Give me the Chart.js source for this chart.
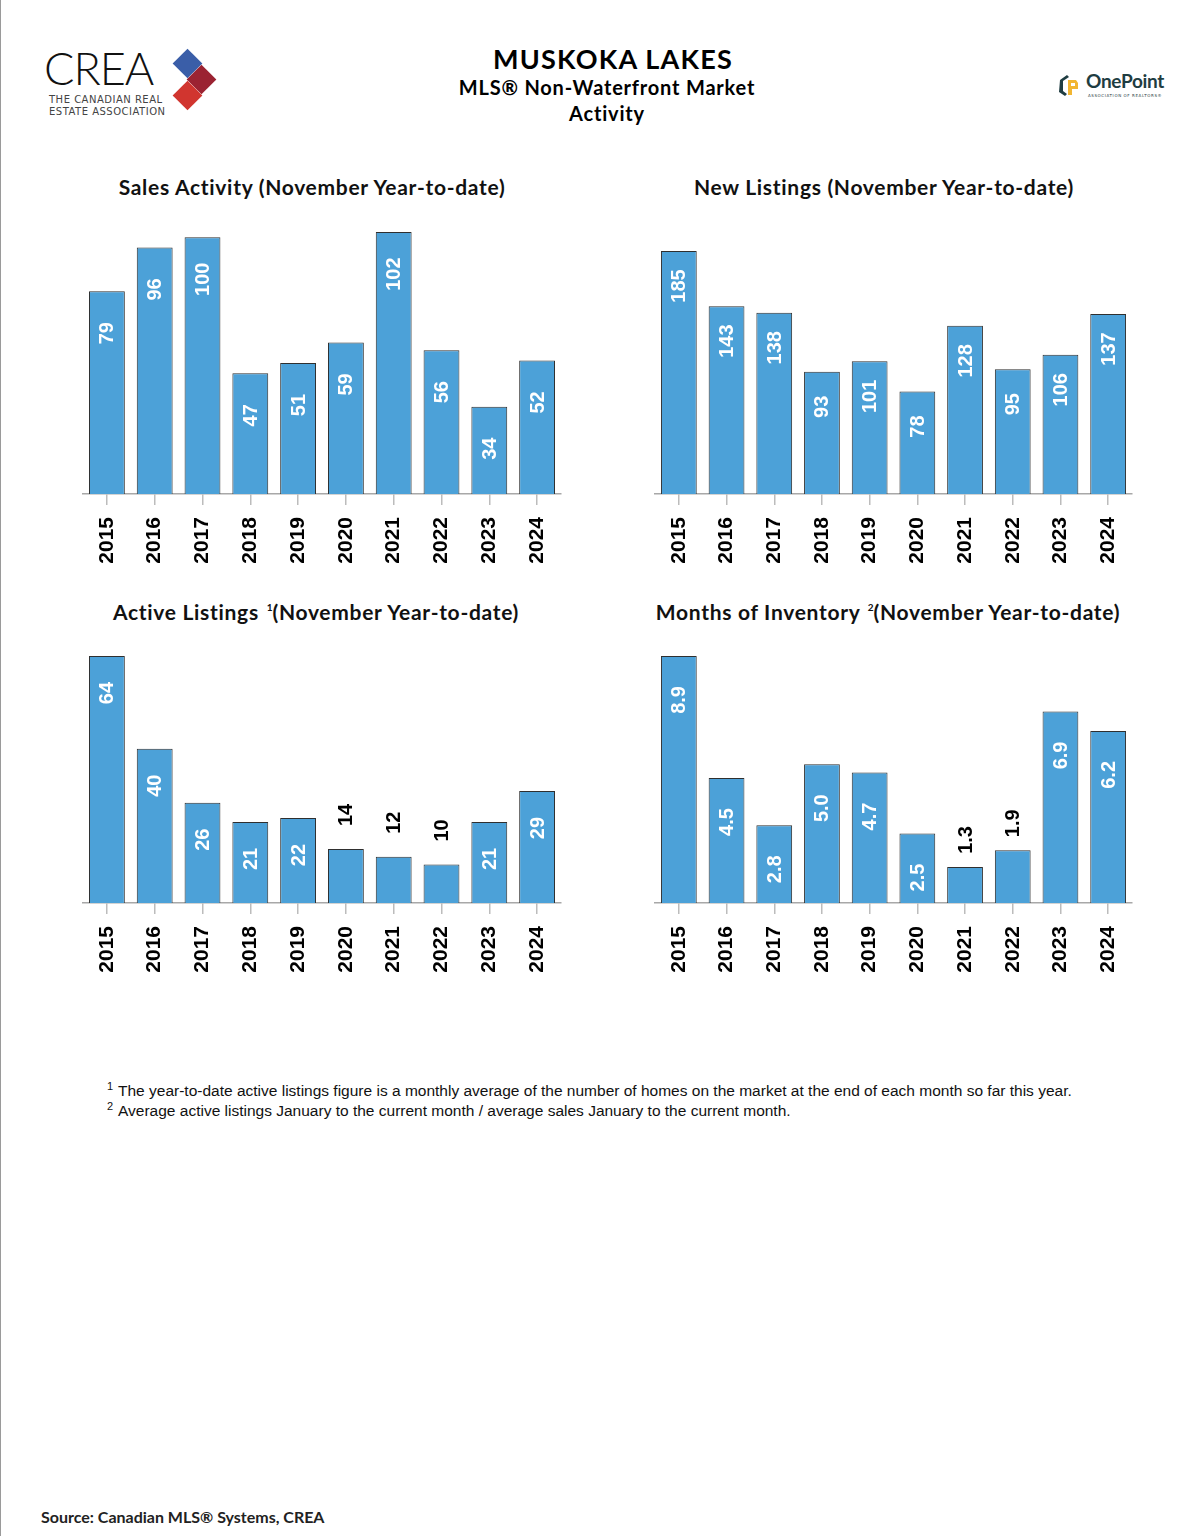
<!DOCTYPE html>
<html>
<head>
<meta charset="utf-8">
<script src="https://cdn.jsdelivr.net/npm/chart.js@4/dist/chart.umd.min.js"></script>
<style>
  html, body { margin: 0; padding: 0; background: #fff; }
  body { width: 1193px; height: 1536px; position: relative; overflow: hidden; }
  .edge { position: absolute; left: 0; top: 0; width: 1px; height: 1536px; background: #9a9a9a; }
  .abs { position: absolute; }
  .head { font-family: Lato, 'Open Sans', sans-serif; font-weight: 700; color: #000; text-align: center; white-space: nowrap; }
  .ctitle { position: absolute; font-family: Lato, 'Open Sans', sans-serif; font-weight: 700; font-size: 21px;
            letter-spacing: 0.7px; color: #111; white-space: nowrap; transform: translate(-50%, -50%); }
  .ctitle sup { font-size: 10px; vertical-align: 9px; margin-left: 2px; letter-spacing: 0; }
  canvas { position: absolute; }
  .notes { position: absolute; left: 107px; top: 1081px; font-family: 'Liberation Sans', Arial, sans-serif;
           font-size: 15.5px; color: #111; line-height: 20px; }
  .notes div { position: relative; padding-left: 11px; height: 20px; white-space: nowrap; }
  .notes sup { position: absolute; left: 0; top: -5px; font-size: 11px; }
  .source { position: absolute; left: 41px; top: 1507px; font-family: Lato, 'Open Sans', sans-serif;
            font-weight: 700; font-size: 16px; color: #222; }
  .dia { position: absolute; width: 21px; height: 21px; transform: rotate(45deg); }
</style>
</head>
<body>
<div class="edge"></div>

<!-- CREA logo -->
<div class="abs" style="left:44px;top:44px;font-family:Lato,'Open Sans',sans-serif;font-weight:300;font-size:45px;letter-spacing:-1px;color:#111;line-height:48px;">CREA</div>
<div class="abs" style="left:49px;top:94px;font-family:'DejaVu Sans',sans-serif;font-size:10px;letter-spacing:0.5px;color:#444;line-height:12px;">THE CANADIAN REAL<br>ESTATE ASSOCIATION</div>
<div class="dia" style="left:177px;top:53px;background:#3a5ea8;"></div>
<div class="dia" style="left:191px;top:69px;background:#9b2332;"></div>
<div class="dia" style="left:177px;top:85px;background:#d1352f;"></div>

<!-- titles -->
<div class="abs head" style="left:413px;width:400px;top:43px;font-size:27px;letter-spacing:1.2px;line-height:32px;">MUSKOKA LAKES</div>
<div class="abs head" style="left:407px;width:400px;top:74px;font-size:20px;letter-spacing:0.8px;line-height:26px;">MLS® Non-Waterfront Market<br>Activity</div>

<!-- OnePoint logo -->
<svg class="abs" style="left:1056px;top:72px;" width="26" height="26" viewBox="0 0 26 26">
  <path d="M4 8 L11 3 L13 5 L7 9 L7 19 L11 22 L9 24 L3 20 Z" fill="#1f3d42"/>
  <path d="M12 8 L20 8 L22 11 L22 17 L16 17 L16 23 L12 23 Z M15 11 L15 14 L19 14 L19 11 Z" fill="#f2b632"/>
</svg>
<div class="abs" style="left:1086px;top:69px;font-family:Lato,'Open Sans',sans-serif;font-weight:700;font-size:19px;color:#1f3d42;letter-spacing:-0.3px;">OnePoint</div>
<div class="abs" style="left:1088px;top:93px;font-family:'DejaVu Sans',sans-serif;font-size:4px;letter-spacing:0.6px;color:#1f3d42;">ASSOCIATION OF REALTORS®</div>

<!-- chart titles -->
<div class="ctitle" style="left:312px;top:186px;">Sales Activity (November Year-to-date)</div>
<div class="ctitle" style="left:884px;top:186px;">New Listings (November Year-to-date)</div>
<div class="ctitle" style="left:316px;top:611px;">Active Listings <sup>1</sup>(November Year-to-date)</div>
<div class="ctitle" style="left:888px;top:611px;">Months of Inventory <sup>2</sup>(November Year-to-date)</div>

<canvas id="c1" style="left:73px;top:200px;width:498px;height:384px;" width="498" height="384"></canvas>
<canvas id="c2" style="left:645px;top:200px;width:497px;height:384px;" width="497" height="384"></canvas>
<canvas id="c3" style="left:73px;top:609px;width:498px;height:384px;" width="498" height="384"></canvas>
<canvas id="c4" style="left:645px;top:609px;width:497px;height:384px;" width="497" height="384"></canvas>

<div class="notes">
  <div><sup>1</sup>The year-to-date active listings figure is a monthly average of the number of homes on the market at the end of each month so far this year.</div>
  <div><sup>2</sup>Average active listings January to the current month / average sales January to the current month.</div>
</div>

<div class="source">Source: Canadian MLS® Systems, CREA</div>

<script>
'use strict';

// ─── Data ────────────────────────────────────────────────────────────────────

const YEARS = ['2015', '2016', '2017', '2018', '2019', '2020', '2021', '2022', '2023', '2024'];

const SALES_ACTIVITY   = [79, 96, 100, 47, 51, 59, 102, 56, 34, 52];
const NEW_LISTINGS     = [185, 143, 138, 93, 101, 78, 128, 95, 106, 137];
const ACTIVE_LISTINGS  = [64, 40, 26, 21, 22, 14, 12, 10, 21, 29];
const MONTHS_INVENTORY = [8.9, 4.5, 2.8, 5.0, 4.7, 2.5, 1.3, 1.9, 6.9, 6.2];

// ─── Styling ─────────────────────────────────────────────────────────────────

const BAR_FILL   = '#4ca1d8';
const BAR_EDGE   = '#2f2f2f';
const AXIS_COLOR = '#a8a8a8';
const TICK_COLOR = '#bcbcbc';
const FONT_NUM   = "'Liberation Sans', Arial, sans-serif";

// Rotated value labels: inside the bar near its top when it fits,
// otherwise just above it in black.
const barLabels = {
  id: 'barLabels',
  afterDatasetsDraw(chart, args, opts) {
    const ctx  = chart.ctx;
    const meta = chart.getDatasetMeta(0);
    const vals = chart.data.datasets[0].data;
    ctx.save();
    ctx.font = `bold ${opts.size || 20}px ${FONT_NUM}`;
    ctx.textAlign = 'center';
    ctx.textBaseline = 'middle';
    meta.data.forEach((bar, i) => {
      const h = bar.base - bar.y;
      const text = opts.decimals ? vals[i].toFixed(opts.decimals) : String(vals[i]);
      let cy, color;
      if (h >= opts.minInside) {
        cy = bar.y + opts.inside;
        color = '#ffffff';
      } else {
        cy = bar.y - opts.outside;
        color = '#000000';
      }
      ctx.save();
      ctx.translate(bar.x, cy);
      ctx.rotate(-Math.PI / 2);
      ctx.fillStyle = color;
      ctx.fillText(text, 0, 1);
      ctx.restore();
    });
    ctx.restore();
  },
};

function buildChart(id, values, yMax, labelOpts) {
  const ctx = document.getElementById(id).getContext('2d');
  return new Chart(ctx, {
    type: 'bar',
    data: {
      labels: YEARS,
      datasets: [{
        data: values,
        backgroundColor: BAR_FILL,
        borderColor: BAR_EDGE,
        borderWidth: 1,
        barPercentage: 0.75,
        categoryPercentage: 1.0,
      }],
    },
    plugins: [barLabels],
    options: {
      responsive: false,
      animation: false,
      layout: { padding: { left: 10, right: 10, top: 10, bottom: 0 } },
      plugins: {
        legend: { display: false },
        tooltip: { enabled: false },
        barLabels: labelOpts,
      },
      scales: {
        x: {
          offset: true,
          // fixed axis band, no extra side padding for the rotated labels
          afterFit: s => { s.height = 90; s.paddingLeft = 0; s.paddingRight = 0; },
          border: { display: true, color: AXIS_COLOR, width: 1.5 },
          grid: { display: true, offset: false, drawOnChartArea: false, drawTicks: true,
                  tickLength: 11, color: TICK_COLOR, lineWidth: 1.5 },
          ticks: {
            autoSkip: false,
            minRotation: 90,
            maxRotation: 90,
            padding: 12,
            color: '#000',
            font: { family: FONT_NUM, size: 21, weight: 'bold' },
          },
        },
        y: { display: false, min: 0, max: yMax },
      },
    },
  });
}

// ─── Init ────────────────────────────────────────────────────────────────────

buildChart('c1', SALES_ACTIVITY,   110.6, { inside: 42, outside: 34, minInside: 60 });
buildChart('c2', NEW_LISTINGS,     216.2, { inside: 35, outside: 34, minInside: 60 });
buildChart('c3', ACTIVE_LISTINGS,  73.6,  { inside: 37, outside: 34, minInside: 60 });
buildChart('c4', MONTHS_INVENTORY, 10.23, { inside: 44, outside: 27, minInside: 60, decimals: 1 });
</script>
</body>
</html>
